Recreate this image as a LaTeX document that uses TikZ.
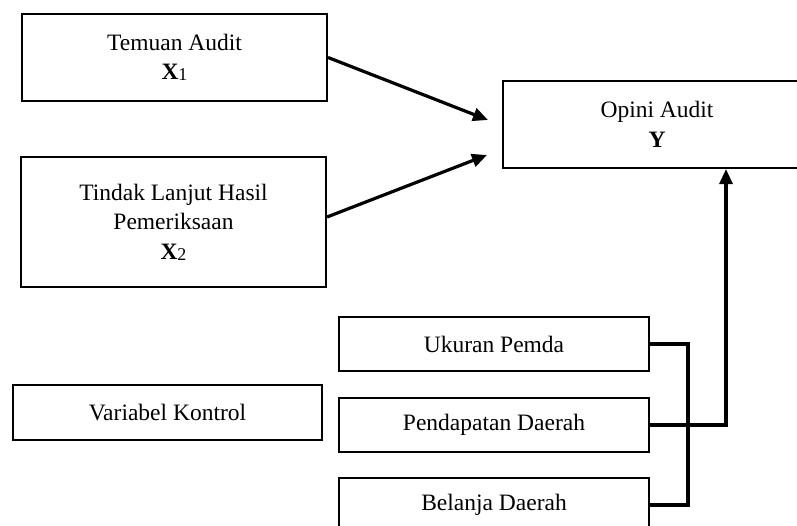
\documentclass[tikz,border=0pt]{standalone}
\usepackage{fontspec}
\setmainfont{Liberation Serif}
\usetikzlibrary{arrows.meta}
\begin{document}
\begin{tikzpicture}[x=1pt,y=-1pt,
  box/.style={draw, line width=2.1pt, rectangle, align=center, inner sep=0pt,
    font=\fontsize{23.5}{29.5}\selectfont},
  conn/.style={line width=3.2pt},
  arr/.style={line width=3.2pt, -{Triangle[length=15pt,width=13pt]}}]
\useasboundingbox (0,0) rectangle (797,526);
\newcommand{\varX}[1]{\textbf{X}\raisebox{-1pt}{\fontsize{18}{18}\selectfont #1}}
\node[box, minimum width=305pt, minimum height=87pt] (t) at (174.5,57.5) {Temuan Audit\\\varX{1}};
\node[box, minimum width=305pt, minimum height=130pt] (h) at (173.5,222) {Tindak Lanjut Hasil\\Pemeriksaan\\\varX{2}};
\node[box, minimum width=308pt, minimum height=87pt] (o) at (657,124.5) {Opini Audit\\\textbf{Y}};
\node[box, minimum width=310pt, minimum height=54pt] (u) at (494,344) {Ukuran Pemda};
\node[box, minimum width=310pt, minimum height=54pt] (p) at (494,425) {Pendapatan Daerah};
\node[box, minimum width=310pt, minimum height=54pt] (b) at (494,505) {Belanja Daerah};
\node[box, minimum width=309pt, minimum height=55pt] (v) at (167.5,412.5) {Variabel Kontrol};
\coordinate (a1) at (488,120);
\coordinate (a2) at (487,155);
\coordinate (bx) at (688,0);
\coordinate (rx) at (726,0);
\draw[arr] (t.east) -- (a1);
\draw[arr] ([yshift=5pt]h.east) -- (a2);
\draw[conn] (u.east) -- (u.east -| bx) -- (b.east -| bx) -- (b.east);
\draw[arr] (p.east) -- (p.east -| rx) -- (rx |- o.south);
\end{tikzpicture}
\end{document}
